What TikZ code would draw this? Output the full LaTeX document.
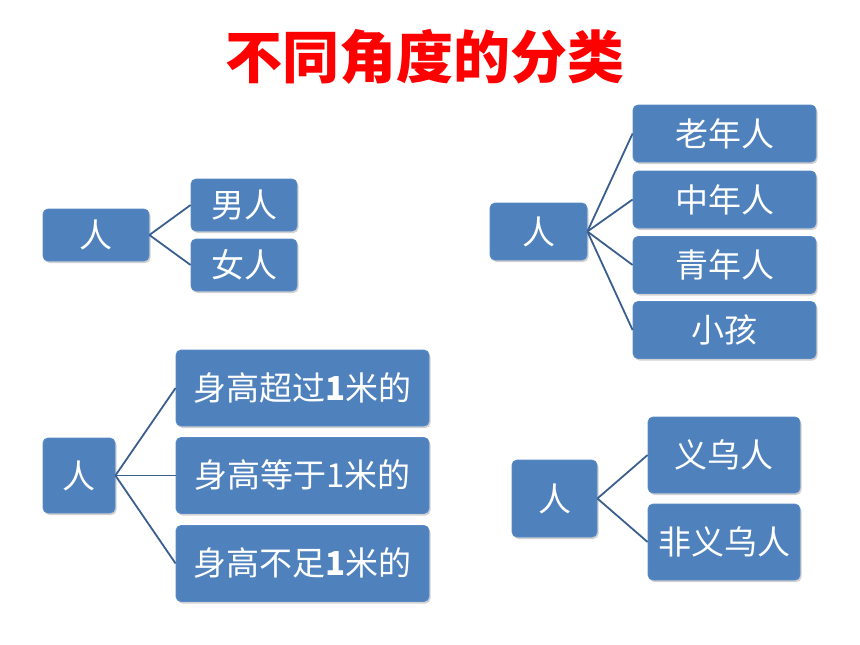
\documentclass[tikz,border=0pt]{standalone}
\usepackage{fontspec}
\newfontfamily\cjk{Noto Sans CJK SC}
\usetikzlibrary{shadows}
\definecolor{boxblue}{HTML}{4F81BD}
\definecolor{boxedge}{HTML}{5A8AC6}
\definecolor{linkblue}{HTML}{3A5F8E}
\definecolor{titlered}{HTML}{FF0000}
\tikzset{
  box/.style={draw=boxedge, line width=0.8pt, fill=boxblue, rounded corners=5pt, inner sep=0pt,
    text=white, font=\cjk\fontsize{33}{38}\selectfont,
    drop shadow={shadow xshift=1.5pt, shadow yshift=-2pt, opacity=0.3, fill=black!60}},
  link/.style={draw=linkblue, line width=1.8pt}
}
\begin{document}
\begin{tikzpicture}[x=1pt,y=-1pt]
\useasboundingbox (0,0) rectangle (860,645);
\node[text=titlered, font=\cjk\bfseries\fontsize{57}{62}\selectfont] (title) at (425,57) {不同角度的分类};

% group 1
\node[box, minimum width=106pt, minimum height=52pt] (p1) at (96,235) {人};
\node[box, minimum width=106pt, minimum height=52pt] (a1) at (244,205) {男人};
\node[box, minimum width=106pt, minimum height=52pt] (a2) at (244,265) {女人};
\draw[link] (p1.east) -- (a1.west);
\draw[link] (p1.east) -- (a2.west);

% group 2
\node[box, minimum width=97pt, minimum height=57pt] (p2) at (538.5,231.5) {人};
\node[box, minimum width=183pt, minimum height=57pt] (b1) at (724.5,133.5) {老年人};
\node[box, minimum width=183pt, minimum height=57pt] (b2) at (724.5,199.5) {中年人};
\node[box, minimum width=183pt, minimum height=57pt] (b3) at (724.5,265) {青年人};
\node[box, minimum width=183pt, minimum height=57pt] (b4) at (724.5,330) {小孩};
\foreach \c in {b1,b2,b3,b4} \draw[link] (p2.east) -- (\c.west);

% group 3
\node[box, minimum width=72pt, minimum height=75pt] (p3) at (79,475.5) {人};
\node[box, minimum width=253pt, minimum height=76pt] (c1) at (302.5,388) {身高超过\textbf{1}米的};
\node[box, minimum width=253pt, minimum height=76pt] (c2) at (302.5,475.5) {身高等于1米的};
\node[box, minimum width=253pt, minimum height=76pt] (c3) at (302.5,563.5) {身高不足\textbf{1}米的};
\foreach \c in {c1,c2,c3} \draw[link] (p3.east) -- (\c.west);

% group 4
\node[box, minimum width=85pt, minimum height=77pt] (p4) at (554.5,498.5) {人};
\node[box, minimum width=152pt, minimum height=76pt] (d1) at (724,455) {义乌人};
\node[box, minimum width=152pt, minimum height=76pt] (d2) at (724,542) {非义乌人};
\draw[link] (p4.east) -- (d1.west);
\draw[link] (p4.east) -- (d2.west);
\end{tikzpicture}
\end{document}
